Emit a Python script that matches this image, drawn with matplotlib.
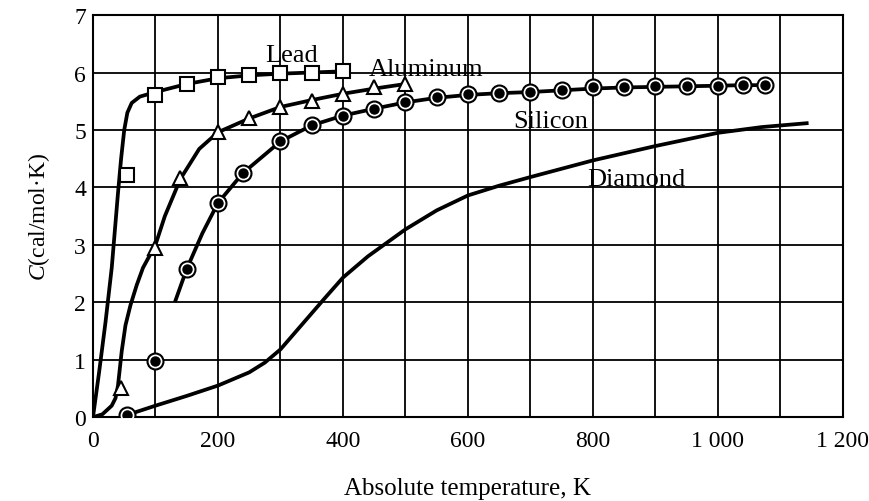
import matplotlib.pyplot as plt
import matplotlib.ticker as tkr

# curves (temperature K, heat capacity cal/mol.K)
lead_curve_t = [0, 10, 20, 30, 40, 45, 50, 55, 62, 75, 100, 150, 200, 250, 300, 350, 400]
lead_curve_c = [0, 0.8, 1.65, 2.6, 3.9, 4.5, 5.0, 5.3, 5.47, 5.58, 5.66, 5.8, 5.9, 5.95, 5.98, 6.0, 6.02]
lead_pts_t = [54, 100, 150, 200, 250, 300, 350, 400]
lead_pts_c = [4.22, 5.6, 5.8, 5.93, 5.96, 5.99, 6.0, 6.03]

al_curve_t = [0, 15, 30, 36, 40, 43, 46, 52, 60, 70, 80, 100, 115, 140, 170, 200, 250, 300, 350, 400, 450, 500]
al_curve_c = [0, 0.05, 0.2, 0.33, 0.55, 0.85, 1.15, 1.6, 1.95, 2.3, 2.6, 3.0, 3.5, 4.15, 4.67, 4.96, 5.2, 5.4, 5.52, 5.63, 5.72, 5.8]
al_pts_t = [45, 100, 140, 200, 250, 300, 350, 400, 450, 500]
al_pts_c = [0.5, 2.95, 4.17, 4.97, 5.2, 5.4, 5.5, 5.63, 5.74, 5.8]

si_curve_t = [131, 150, 175, 200, 240, 300, 350, 400, 450, 500, 550, 600, 650, 700,
              750, 800, 850, 900, 950, 1000, 1040, 1075]
si_curve_c = [2.0, 2.58, 3.2, 3.73, 4.25, 4.8, 5.08, 5.25, 5.37, 5.48, 5.56, 5.61, 5.64, 5.66,
              5.69, 5.72, 5.74, 5.75, 5.76, 5.77, 5.78, 5.78]
si_pts_t = [55, 100, 150, 200, 240, 300, 350, 400, 450, 500, 550, 600, 650, 700,
            750, 800, 850, 900, 950, 1000, 1040, 1075]
si_pts_c = [0.04, 0.97, 2.58, 3.73, 4.25, 4.8, 5.08, 5.25, 5.37, 5.48, 5.58, 5.62, 5.64, 5.66,
            5.69, 5.74, 5.75, 5.76, 5.77, 5.77, 5.79, 5.78]

dia_curve_t = [55, 100, 150, 200, 250, 275, 300, 335, 370, 400, 440, 500, 550, 600, 650, 700, 800, 900, 1000, 1070, 1145]
dia_curve_c = [0.04, 0.2, 0.37, 0.55, 0.78, 0.95, 1.18, 1.62, 2.06, 2.43, 2.8, 3.27, 3.6, 3.86, 4.03, 4.18, 4.47, 4.72, 4.95, 5.05, 5.12]

x_ticks = [0, 200, 400, 600, 800, 1000, 1200]
x_tick_labels = ['0', '200', '400', '600', '800', '1 000', '1 200']
y_ticks = [0, 1, 2, 3, 4, 5, 6, 7]

plt.rcParams['font.family'] = ['Liberation Serif', 'DejaVu Serif']
plt.rcParams['mathtext.fontset'] = 'custom'
plt.rcParams['mathtext.it'] = 'Liberation Serif:italic'

fig = plt.figure(figsize=(8.69, 5.02), dpi=100)
ax = fig.add_axes([0.107, 0.167, 0.863, 0.801])

lw = 2.7
for t, c in [(lead_curve_t, lead_curve_c), (al_curve_t, al_curve_c),
             (si_curve_t, si_curve_c), (dia_curve_t, dia_curve_c)]:
    ax.plot(t, c, color='black', lw=lw, zorder=3, solid_capstyle='butt', solid_joinstyle='round')

ax.plot(lead_pts_t, lead_pts_c, ls='none', marker='s', ms=10, mfc='white', mec='black', mew=1.5, zorder=4)
ax.plot(al_pts_t, al_pts_c, ls='none', marker='^', ms=10, mfc='white', mec='black', mew=1.5, zorder=4)
ax.plot(si_pts_t, si_pts_c, ls='none', marker='o', ms=11.5, mfc='white', mec='black', mew=1.5, zorder=4)
ax.plot(si_pts_t, si_pts_c, ls='none', marker='o', ms=6.5, mfc='black', mec='black', zorder=5)

ax.text(317, 6.3, 'Lead', fontsize=19, ha='center', va='center')
ax.text(533, 6.06, 'Aluminum', fontsize=19, ha='center', va='center')
ax.text(733, 5.16, 'Silicon', fontsize=19, ha='center', va='center')
ax.text(870, 4.15, 'Diamond', fontsize=19, ha='center', va='center')

ax.set_xlim(0, 1200)
ax.set_ylim(0, 7)
ax.set_xticks(x_ticks)
ax.set_xticklabels(x_tick_labels)
ax.set_yticks(y_ticks)
ax.xaxis.set_minor_locator(tkr.MultipleLocator(100))
ax.grid(which='both', color='black', lw=1.3)
ax.tick_params(which='both', length=0, labelsize=17)
ax.tick_params(axis='x', pad=9)
ax.tick_params(axis='y', pad=5)
for s in ax.spines.values():
    s.set_linewidth(1.5)

ax.set_xlabel('Absolute temperature, K', fontsize=18, labelpad=19)
ax.set_ylabel('$C$(cal/mol·K)', fontsize=17, labelpad=16)

fig.savefig('out.png', dpi=100)
